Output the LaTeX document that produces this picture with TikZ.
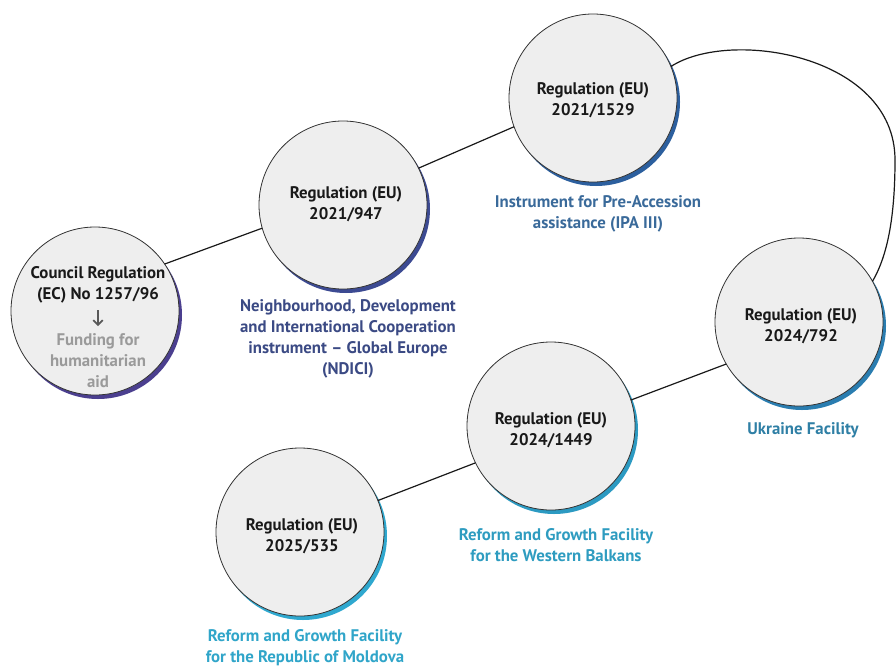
\documentclass[tikz,border=0pt]{standalone}
\usepackage{fontspec}
\setmainfont{PT Sans}
\usetikzlibrary{backgrounds,arrows.meta}

\definecolor{circfill}{HTML}{EEEEEE}
\definecolor{ringA}{HTML}{4B3F8F}
\definecolor{ringB}{HTML}{3C4A92}
\definecolor{ringC}{HTML}{2C5F9E}
\definecolor{ringD}{HTML}{2A7DB0}
\definecolor{ringE}{HTML}{2C9AC2}
\definecolor{ringF}{HTML}{2FA8CF}
\definecolor{capB}{HTML}{3B4A84}
\definecolor{capC}{HTML}{3A6A9A}
\definecolor{capD}{HTML}{2F7FA5}
\definecolor{capE}{HTML}{2E9CC0}
\definecolor{capF}{HTML}{30A5C9}
\definecolor{fundgray}{HTML}{9A9A9A}

\tikzset{
  reg/.style={circle, draw=black!80, line width=0.6pt, fill=circfill,
    minimum size=126pt, inner sep=0pt, outer sep=0pt},
  regtext/.style={align=center, text=black!90,
    font=\bfseries\fontsize{12.6}{15.8}\selectfont},
  caption/.style={align=center, font=\bfseries\fontsize{12.6}{15.8}\selectfont},
  link/.style={line width=0.9pt, black!90},
  rim/.style={fill=#1}
}

\begin{document}
\begin{tikzpicture}[x=0.75pt,y=-0.75pt]
\useasboundingbox (0,0) rectangle (896,668);

% regulation circles
\node[reg] (c1) at (95,311) {};
\node[reg] (c2) at (343,205) {};
\node[reg] (c3) at (593,98) {};
\node[reg] (c4) at (799,322) {};
\node[reg] (c5) at (551,426) {};
\node[reg] (c6) at (300,532) {};

% coloured rims peeking out at the lower right
\begin{scope}[on background layer]
  \fill[rim=ringA] ([shift={(3,4)}]c1.center) circle[radius=63pt];
  \fill[rim=ringB] ([shift={(3,4)}]c2.center) circle[radius=63pt];
  \fill[rim=ringC] ([shift={(3,4)}]c3.center) circle[radius=63pt];
  \fill[rim=ringD] ([shift={(3,4)}]c4.center) circle[radius=63pt];
  \fill[rim=ringE] ([shift={(3,4)}]c5.center) circle[radius=63pt];
  \fill[rim=ringF] ([shift={(3,4)}]c6.center) circle[radius=63pt];
\end{scope}

% connectors
\draw[link] (c1.34) -- (c2.196);
\draw[link] (c2.26) -- (c3.200);
\coordinate (bend) at (895,160);
\draw[link] (c3.22) .. controls (730,28) and (895,55) .. (bend)
                    .. controls (895,215) and (888,255) .. (c4.29);
\draw[link] (c4.210) -- (c5.18);
\draw[link] (c5.206) -- (c6.22);

% circle texts
\node[regtext] (t1) at (98,284.5) {Council Regulation\\(EC) No 1257/96};
\coordinate (ar1) at (98,310);
\coordinate (ar2) at (98,326);
\draw[line width=1.3pt, black!65, -{Straight Barb[length=3.5pt,width=7pt]}] (ar1) -- (ar2);
\node[regtext, text=fundgray] (f1) at (98,361) {Funding for\\humanitarian\\aid};
\node[regtext] (t2) at (346,204) {Regulation (EU)\\2021/947};
\node[regtext] (t3) at (593,100) {Regulation (EU)\\2021/1529};
\node[regtext] (t4) at (801,326.5) {Regulation (EU)\\2024/792};
\node[regtext] (t5) at (551,430) {Regulation (EU)\\2024/1449};
\node[regtext] (t6) at (302,536) {Regulation (EU)\\2025/535};

% instrument captions
\node[caption, text=capB] (n2) at (348,339) {Neighbourhood, Development\\and International Cooperation\\instrument -- Global Europe\\(NDICI)};
\node[caption, text=capC] (n3) at (598,213.5) {Instrument for Pre-Accession\\assistance (IPA III)};
\node[caption, text=capD] (n4) at (803,430) {Ukraine Facility};
\node[caption, text=capE] (n5) at (556,545) {Reform and Growth Facility\\for the Western Balkans};
\node[caption, text=capF] (n6) at (305,648) {Reform and Growth Facility\\for the Republic of Moldova};
\end{tikzpicture}
\end{document}
